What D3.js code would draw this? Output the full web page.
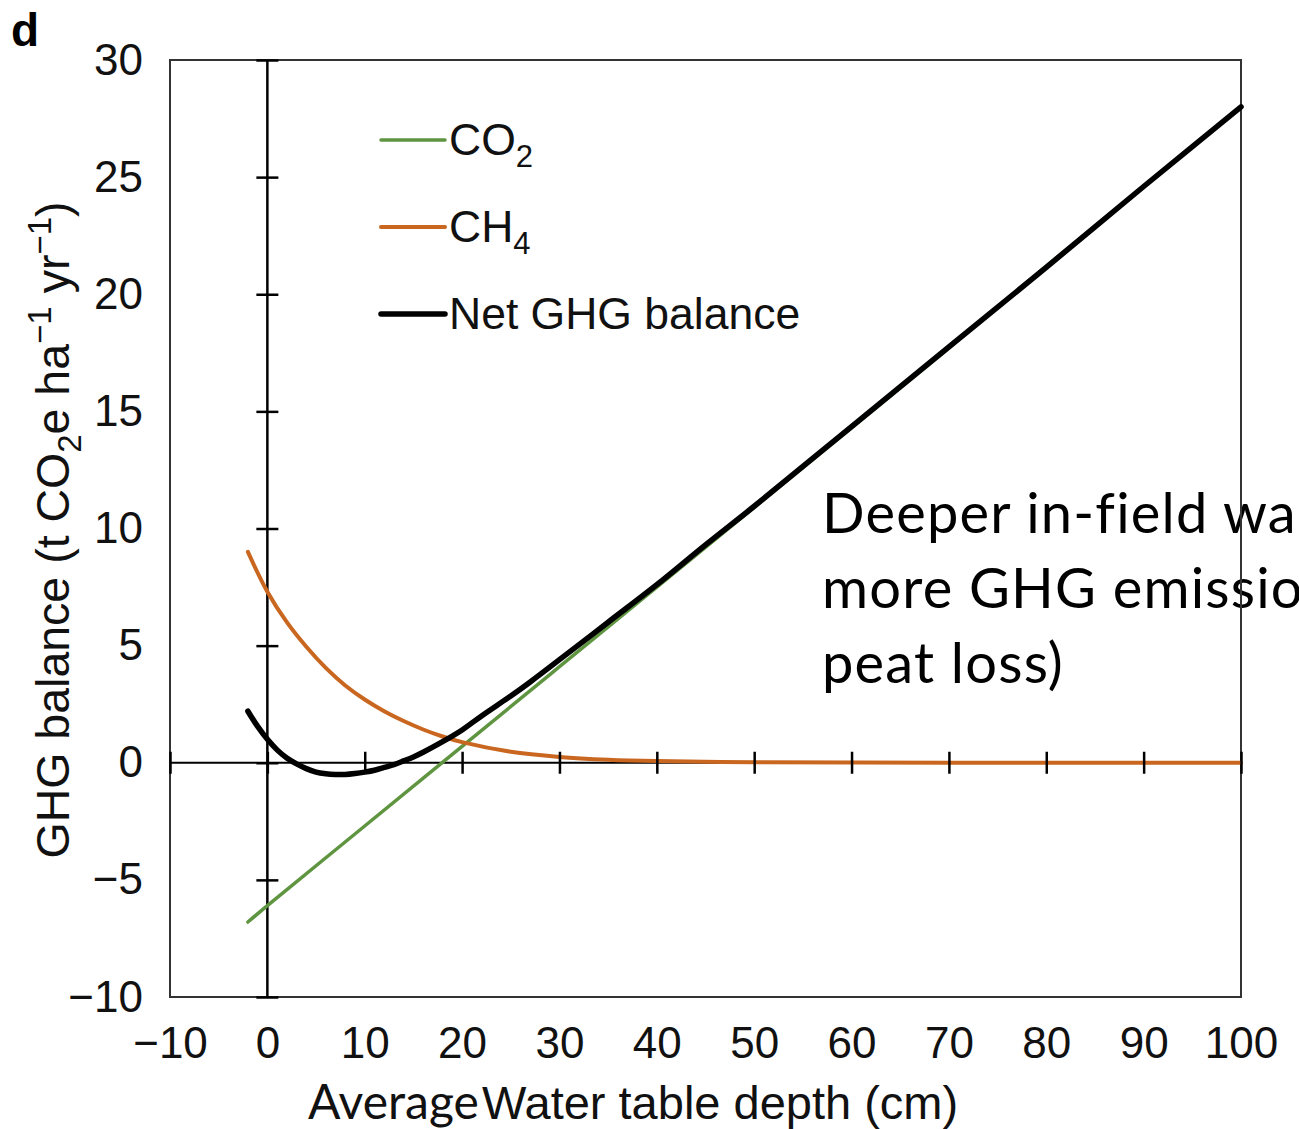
<!DOCTYPE html>
<html>
<head>
<meta charset="utf-8">
<style>
body { margin: 0; background: #fff; }
svg { display: block; }
.tick text { font: 44px "Liberation Sans", Arial, sans-serif; fill: #111; }
.lbl { font: 44.5px "Liberation Sans", Arial, sans-serif; fill: #111; }
.note { font: 56px Lato, "Open Sans", sans-serif; fill: #000; font-variant-ligatures: none; letter-spacing: 1.2px; }
</style>
<script src="https://cdn.jsdelivr.net/npm/d3@7"></script>
</head>
<body>
<script>
// values
var co2Depth = [-2, 0, 10, 20, 30, 40, 50, 60, 70, 80, 90, 100];
var co2Vals  = [-6.8, -6.1, -2.7, 0.7, 4.1, 7.5, 10.9, 14.3, 17.7, 21.2, 24.6, 28.0];

var ch4Depth = [-2, 0, 2, 4, 6, 8, 10, 12, 14, 16, 18, 20, 25, 30, 35, 40, 50, 60, 70, 80, 90, 100];
var ch4Vals  = [9.0, 7.3, 6.0, 4.95, 4.05, 3.3, 2.7, 2.2, 1.78, 1.42, 1.12, 0.88, 0.47, 0.25, 0.13, 0.07, 0.02, 0.01, 0, 0, 0, 0];

var netDepth = [-2, -1, 0, 1, 2, 3, 4, 5, 6, 7, 8, 9, 10, 11, 12, 13, 14, 15, 16, 18, 20, 22, 25, 27, 30, 35, 40, 45, 50, 60, 70, 80, 90, 100];
var netVals  = [2.2, 1.55, 1.0, 0.55, 0.2, -0.05, -0.25, -0.4, -0.47, -0.5, -0.5, -0.46, -0.4, -0.32, -0.2, -0.08, 0.08, 0.25, 0.45, 0.9, 1.4, 2.0, 2.85, 3.45, 4.4, 6.0, 7.6, 9.3, 10.95, 14.35, 17.75, 21.15, 24.6, 28.0];

var xTicks = [-10, 0, 10, 20, 30, 40, 50, 60, 70, 80, 90, 100];
var yTicks = [-10, -5, 0, 5, 10, 15, 20, 25, 30];

var legendNames = ["CO", "CH", "Net GHG balance"];
var legendSubs = ["2", "4", ""];
var colors = ["#5f9440", "#c9661f", "#000"];
var widths = [3.5, 4, 5.5];

var width = 1299, height = 1129;

var svg = d3.select("body").append("svg")
	.attr("width", width)
	.attr("height", height);

var x = d3.scaleLinear().domain([-10, 100]).range([170, 1241]);
var y = d3.scaleLinear().domain([-10, 30]).range([997, 60]);

function fmt(d) { return d < 0 ? "\u2212" + Math.abs(d) : d; }

// annotation, runs off the right edge like the original
var note = svg.append("text").attr("class", "note").attr("x", 822);
["Deeper in-field wa", "more GHG emissio", "peat loss)"].forEach(function(t, i) {
	note.append("tspan").attr("x", 822).attr("y", 533 + i * 75).text(t);
});

// frame
svg.append("rect")
	.attr("x", x(-10)).attr("y", y(30))
	.attr("width", x(100) - x(-10)).attr("height", y(-10) - y(30))
	.attr("fill", "none").attr("stroke", "#333").attr("stroke-width", 2);

// zero lines
svg.append("line")
	.attr("x1", x(-10)).attr("x2", x(100)).attr("y1", y(0)).attr("y2", y(0))
	.attr("stroke", "#000").attr("stroke-width", 2);
svg.append("line")
	.attr("x1", x(0)).attr("x2", x(0)).attr("y1", y(30)).attr("y2", y(-10))
	.attr("stroke", "#000").attr("stroke-width", 2.5);

// tick labels
var xl = svg.append("g").attr("transform", "translate(0," + y(-10) + ")")
	.call(d3.axisBottom(x).tickValues(xTicks).tickSize(0).tickPadding(30).tickFormat(fmt));
xl.select(".domain").remove();

var yl = svg.append("g").attr("transform", "translate(" + x(-10) + ",0)")
	.call(d3.axisLeft(y).tickValues(yTicks).tickSize(0).tickPadding(27).tickFormat(fmt));
yl.select(".domain").remove();

// series
var line = d3.line()
	.x(function(d) { return x(d[0]); })
	.y(function(d) { return y(d[1]); })
	.curve(d3.curveCatmullRom.alpha(0.5));

var series = [
	d3.zip(co2Depth, co2Vals),
	d3.zip(ch4Depth, ch4Vals),
	d3.zip(netDepth, netVals)
];

series.forEach(function(s, i) {
	svg.append("path")
		.datum(s)
		.attr("d", line)
		.attr("fill", "none")
		.attr("stroke", colors[i])
		.attr("stroke-width", widths[i])
		.attr("stroke-linecap", "round");
});

// crossing ticks on the zero axes
var xt = svg.append("g").attr("transform", "translate(0," + (y(0) - 11) + ")")
	.call(d3.axisBottom(x).tickValues(xTicks).tickSize(22).tickFormat(""));
xt.select(".domain").remove();
xt.selectAll("line").attr("stroke", "#000").attr("stroke-width", 2.5);

var yt = svg.append("g").attr("transform", "translate(" + (x(0) + 11) + ",0)")
	.call(d3.axisLeft(y).tickValues(yTicks).tickSize(22).tickFormat(""));
yt.select(".domain").remove();
yt.selectAll("line").attr("stroke", "#000").attr("stroke-width", 2.5);

// legend
legendNames.forEach(function(n, i) {
	var ly = 140 + i * 87;
	svg.append("line")
		.attr("x1", 381).attr("x2", 445).attr("y1", ly).attr("y2", ly)
		.attr("stroke", colors[i]).attr("stroke-width", widths[i])
		.attr("stroke-linecap", "round");
	var t = svg.append("text").attr("class", "lbl")
		.attr("x", 449).attr("y", ly + 15).text(n);
	if (legendSubs[i]) {
		t.append("tspan").attr("dy", 12).style("font-size", "31px").text(legendSubs[i]);
	}
});

// axis titles
var xt2 = svg.append("text").attr("class", "lbl").attr("x", 308).attr("y", 1119)
	.style("font-size", "47px");
xt2.append("tspan").style("font-family", "Lato, 'Open Sans', sans-serif").style("font-size", "48px").text("Average");
xt2.append("tspan").attr("dx", 3).text("Water table depth (cm)");

var yTitle = svg.append("text").attr("class", "lbl")
	.attr("transform", "translate(69,530) rotate(-90)")
	.attr("text-anchor", "middle")
	.style("font-size", "46.5px");
yTitle.append("tspan").text("GHG balance (t CO");
yTitle.append("tspan").attr("dy", 12).style("font-size", "33px").text("2");
yTitle.append("tspan").attr("dy", -12).text("e ha");
yTitle.append("tspan").attr("dy", -18).style("font-size", "33px").text("\u22121");
yTitle.append("tspan").attr("dy", 18).text(" yr");
yTitle.append("tspan").attr("dy", -18).style("font-size", "33px").text("\u22121");
yTitle.append("tspan").attr("dy", 18).text(")");

// panel letter
svg.append("text")
	.attr("x", 11).attr("y", 46)
	.style("font", "bold 46px 'Liberation Sans', Arial, sans-serif")
	.text("d");
</script>
</body>
</html>
